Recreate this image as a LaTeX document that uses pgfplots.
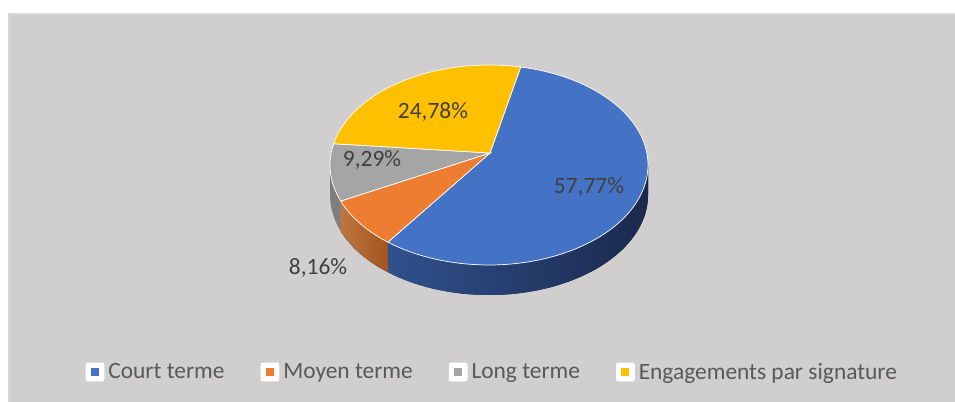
\documentclass[border=0pt]{standalone}
\usepackage{fontspec}
\setmainfont{Carlito}
\usepackage{pgfplots}
\pgfplotsset{compat=1.18}
\usepgfplotslibrary{fillbetween}
\definecolor{cA}{HTML}{4472C4}
\definecolor{cB}{HTML}{ED7D31}
\definecolor{cC}{HTML}{A5A5A5}
\definecolor{cD}{HTML}{FFC000}
\definecolor{sAl}{HTML}{30518E}
\definecolor{sAr}{HTML}{1A294B}
\definecolor{sB}{HTML}{B45E20}
\definecolor{sC}{HTML}{7E7E7E}
\definecolor{bgc}{HTML}{D0CECE}
\definecolor{bord}{HTML}{D9D8D8}
\definecolor{lab}{HTML}{404040}
\definecolor{leg}{HTML}{595959}
\begin{document}
\begin{tikzpicture}
\def\vA{57.77}\def\vB{8.16}\def\vC{9.29}\def\vD{24.78}
\pgfmathsetmacro{\s}{78.5}
\pgfmathsetmacro{\aA}{\s-3.6*\vA}
\pgfmathsetmacro{\aB}{\aA-3.6*\vB}
\pgfmathsetmacro{\aC}{\aB-3.6*\vC}
\pgfmathsetmacro{\aD}{\aC-3.6*\vD}
\fill[white] (0,0) rectangle (955bp,402bp);
\fill[bord] (8bp,0) rectangle (955bp,389bp);
\fill[bgc] (10bp,0) rectangle (955bp,387bp);
\begin{axis}[hide axis, scale only axis, width=955bp, height=402bp,
  xmin=0, xmax=955, ymin=0, ymax=402, clip=false,
  legend columns=4,
  legend image code/.code={%
    \fill[white, rounded corners=2bp] (0bp,-9bp) rectangle (18bp,9bp);
    \path[fill, draw=none] (5bp,-4bp) rectangle (13bp,4bp);},
  legend style={at={(0.515,0.0746)}, anchor=center, draw=none, fill=none,
    font=\fontsize{23.5}{28}\selectfont, text=leg,
    /tikz/every even column/.append style={column sep=35bp},
    /tikz/every odd column/.append style={column sep=3bp},
    nodes={inner sep=1bp}},
  variable=\t, samples=90]
% sides
\addplot[draw=none, name path=tA, domain=\aA:0, forget plot] ({489+159*cos(\t)},{237+100*sin(\t)});
\addplot[draw=none, name path=bA, domain=\aA:0, forget plot] ({489+159*cos(\t)},{207+100*sin(\t)});
\addplot[left color=sAl, right color=sAr, draw=none, forget plot] fill between[of=tA and bA, on layer=main];
\addplot[draw=none, name path=tB, domain=\aB:\aA, forget plot] ({489+159*cos(\t)},{237+100*sin(\t)});
\addplot[draw=none, name path=bB, domain=\aB:\aA, forget plot] ({489+159*cos(\t)},{207+100*sin(\t)});
\addplot[left color=sB!85!white, right color=sB!90!black, draw=none, forget plot] fill between[of=tB and bB, on layer=main];
\addplot[draw=none, name path=tC, domain=-180:\aB, forget plot] ({489+159*cos(\t)},{237+100*sin(\t)});
\addplot[draw=none, name path=bC, domain=-180:\aB, forget plot] ({489+159*cos(\t)},{207+100*sin(\t)});
\addplot[fill=sC, draw=none, forget plot] fill between[of=tC and bC, on layer=main];
% top face
\addplot[fill=cA, draw=white, line width=0.7bp, domain=\aA:\s] ({489+159*cos(\t)},{237+100*sin(\t)}) -- (490,249) -- cycle;
\addlegendentry{Court terme}
\addplot[fill=cB, draw=white, line width=0.7bp, domain=\aB:\aA] ({489+159*cos(\t)},{237+100*sin(\t)}) -- (490,249) -- cycle;
\addlegendentry{Moyen terme}
\addplot[fill=cC, draw=white, line width=0.7bp, domain=\aC:\aB] ({489+159*cos(\t)},{237+100*sin(\t)}) -- (490,249) -- cycle;
\addlegendentry{Long terme}
\addplot[fill=cD, draw=white, line width=0.7bp, domain=\aD:\aC] ({489+159*cos(\t)},{237+100*sin(\t)}) -- (490,249) -- cycle;
\addlegendentry{Engagements par signature}
% labels
\node[text=lab, font=\fontsize{23.5}{28}\selectfont] at (589,215) {57,77\%};
\node[text=lab, font=\fontsize{23.5}{28}\selectfont] at (433,290) {24,78\%};
\node[text=lab, font=\fontsize{23.5}{28}\selectfont] at (372,242) {9,29\%};
\node[text=lab, font=\fontsize{23.5}{28}\selectfont] at (318,134) {8,16\%};
\end{axis}
\end{tikzpicture}
\end{document}
